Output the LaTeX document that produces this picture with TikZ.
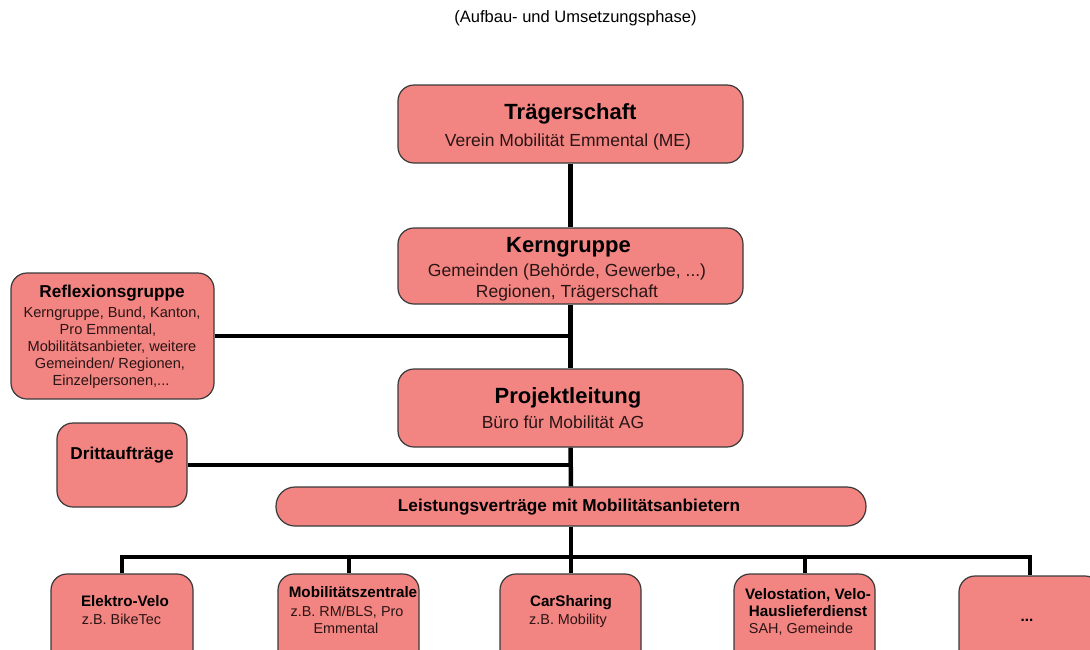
\documentclass[tikz,border=0pt]{standalone}
\usepackage{fontspec}
\setmainfont{Liberation Sans}
\definecolor{boxfill}{HTML}{F28482}
\definecolor{boxline}{HTML}{3A3A3A}
\definecolor{subtxt}{HTML}{2A1515}
\begin{document}
\begin{tikzpicture}[x=1pt,y=-1pt,
  box/.style={draw=boxline, line width=1.2pt, fill=boxfill, rounded corners=16pt, inner sep=0pt},
  conn/.style={line width=4.5pt, black},
  droplink/.style={line width=4pt, black},
  txt/.style={inner sep=0pt, anchor=base},
  bigtitle/.style={txt, font=\fontsize{22}{26}\selectfont\bfseries},
  bigsub/.style={txt, font=\fontsize{17.5}{22}\selectfont, text=subtxt},
  midtitle/.style={txt, font=\fontsize{17.2}{20}\selectfont\bfseries},
  smallbody/.style={txt, font=\fontsize{14.6}{17}\selectfont, text=subtxt},
  lowtitle/.style={txt, font=\fontsize{15.2}{18}\selectfont\bfseries},
  lowsub/.style={txt, font=\fontsize{14.4}{17}\selectfont, text=subtxt}]
\useasboundingbox (0,0) rectangle (1090,649);
\clip (0,0) rectangle (1090,649);
% heading
\node[txt, font=\fontsize{16.5}{20}\selectfont] (head) at (575.5,22) {(Aufbau- und Umsetzungsphase)};
% boxes
\node[box, minimum width=345pt, minimum height=78pt] (trag) at (570.5,124) {};
\node[box, minimum width=345pt, minimum height=76pt] (kern) at (570.5,266) {};
\node[box, minimum width=203pt, minimum height=126pt] (refl) at (112.5,336) {};
\node[box, minimum width=345pt, minimum height=78pt] (proj) at (570.5,408) {};
\node[box, minimum width=130pt, minimum height=84pt] (drit) at (122,465) {};
\node[box, rounded corners=19pt, minimum width=590pt, minimum height=39pt] (leist) at (571,506.5) {};
\node[box, minimum width=142pt, minimum height=106pt] (ev) at (122,627) {};
\node[box, minimum width=141pt, minimum height=106pt] (mz) at (348.5,627) {};
\node[box, minimum width=141pt, minimum height=106pt] (cs) at (570.5,627) {};
\node[box, minimum width=141pt, minimum height=106pt] (vs) at (804.5,627) {};
\node[box, minimum width=142pt, minimum height=104pt] (more) at (1030,628) {};
% texts
\node[bigtitle] (tragT) at (570.5,119) {Trägerschaft};
\node[bigsub] (tragS) at (568,146) {Verein Mobilität Emmental (ME)};
\node[bigtitle] (kernT) at (568.5,252) {Kerngruppe};
\node[bigsub] (kernS1) at (567,276) {Gemeinden (Behörde, Gewerbe, ...)};
\node[bigsub] (kernS2) at (567,297) {Regionen, Trägerschaft};
\node[bigtitle] (projT) at (568,403) {Projektleitung};
\node[bigsub] (projS) at (563,428) {Büro für Mobilität AG};
\node[midtitle] (reflT) at (112,297) {Reflexionsgruppe};
\node[smallbody] (reflA) at (112,317) {Kerngruppe, Bund, Kanton,};
\node[smallbody] (reflB) at (108,334) {Pro Emmental,};
\node[smallbody] (reflC) at (112,351) {Mobilitätsanbieter, weitere};
\node[smallbody] (reflD) at (110,368) {Gemeinden/ Regionen,};
\node[smallbody] (reflE) at (111,385) {Einzelpersonen,...};
\node[midtitle] (dritT) at (122,459) {Drittaufträge};
\node[midtitle] (leistT) at (569,511) {Leistungsverträge mit Mobilitätsanbietern};
\node[lowtitle] (evT) at (125,606) {Elektro-Velo};
\node[lowsub] (evS) at (121.5,624) {z.B. BikeTec};
\node[lowtitle] (mzT) at (353,597) {Mobilitätszentrale};
\node[lowsub] (mzS1) at (347,616) {z.B. RM/BLS, Pro};
\node[lowsub] (mzS2) at (346,633) {Emmental};
\node[lowtitle] (csT) at (571,606) {CarSharing};
\node[lowsub] (csS) at (568,624) {z.B. Mobility};
\node[lowtitle] (vsT1) at (808,599) {Velostation, Velo-};
\node[lowtitle] (vsT2) at (808,616) {Hauslieferdienst};
\node[lowsub] (vsS) at (801,633) {SAH, Gemeinde};
\node[lowtitle] (moreT) at (1027,621) {...};
% connectors
\coordinate (bus) at (571,557);
\draw[conn] (trag.south) -- (kern.north);
\draw[conn] (kern.south) -- (proj.north);
\draw[conn] (refl.east) -- (refl.east -| kern.south);
\draw[conn] (proj.south) -- (leist.north);
\draw[conn] (drit.east) -- (drit.east -| proj.south);
\draw[conn] (leist.south) -- (bus);
\draw[conn, line cap=rect] (ev.north |- bus) -- (more.north |- bus);
\draw[droplink] (ev.north |- bus) -- (ev.north);
\draw[droplink] (mz.north |- bus) -- (mz.north);
\draw[droplink] (cs.north |- bus) -- (cs.north);
\draw[droplink] (vs.north |- bus) -- (vs.north);
\draw[droplink] (more.north |- bus) -- (more.north);
\end{tikzpicture}
\end{document}
